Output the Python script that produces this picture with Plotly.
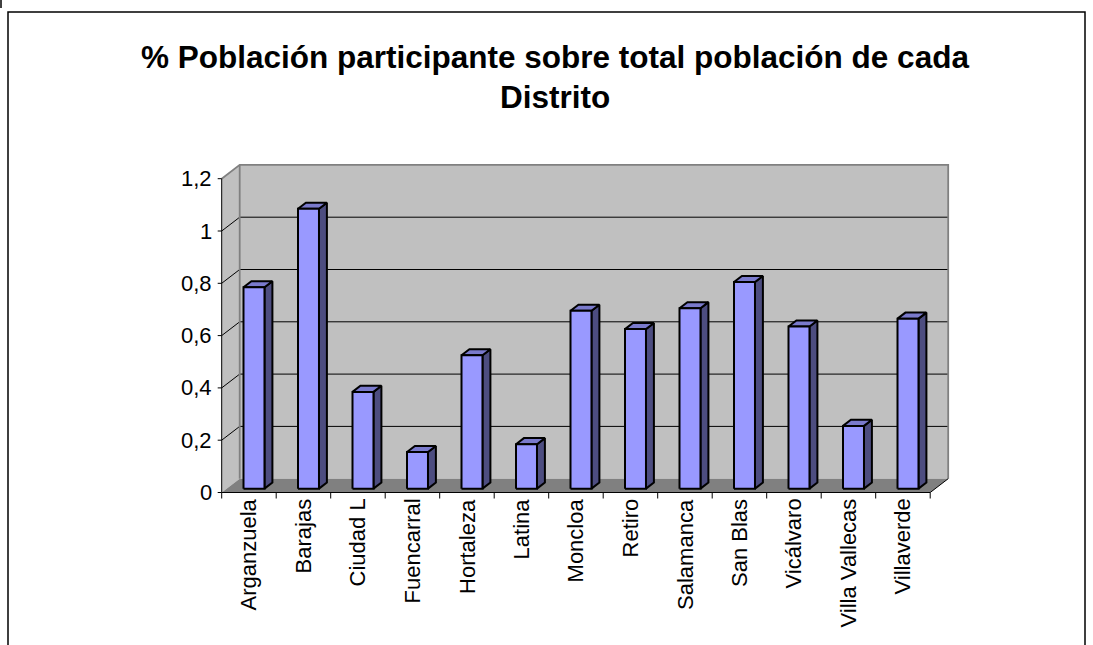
import plotly.graph_objects as go

# ---------------- data ----------------
categories = ["Arganzuela", "Barajas", "Ciudad L", "Fuencarral", "Hortaleza", "Latina",
              "Moncloa", "Retiro", "Salamanca", "San Blas", "Vicálvaro",
              "Villa Vallecas", "Villaverde"]
values = [0.77, 1.07, 0.37, 0.14, 0.51, 0.17, 0.68, 0.61, 0.69, 0.79, 0.62, 0.24, 0.65]
y_ticks = [0, 0.2, 0.4, 0.6, 0.8, 1.0, 1.2]
y_tick_labels = ["0", "0,2", "0,4", "0,6", "0,8", "1", "1,2"]
title_lines = ["% Población participante sobre total población de cada", "Distrito"]

# ---------------- layout constants ----------------
W, H = 1093, 645
X0_PX, PX_PER_CAT = 221.7, 54.5        # front origin / px per category
Y0_PX, PX_PER_UNIT = 492.5, 261.5      # front zero / px per value unit
DEPTH_X = 18.0 / PX_PER_CAT
DEPTH_Y = 13.8 / PX_PER_UNIT
BAR_W = 0.385
D0, D1 = 0.28, 0.72
FONT = "Liberation Sans, Arial, Helvetica, sans-serif"

n = len(categories)
YMAX = y_ticks[-1]


def P(x, y, d):
    return (x + d * DEPTH_X, y + d * DEPTH_Y)


traces = []


def poly(pts, fill, line_color="rgba(0,0,0,0)", lw=0):
    xs = [p[0] for p in pts] + [pts[0][0]]
    ys = [p[1] for p in pts] + [pts[0][1]]
    traces.append(go.Scatter(x=xs, y=ys, mode="lines", fill="toself", fillcolor=fill,
                             line=dict(color=line_color, width=lw),
                             hoverinfo="skip", showlegend=False))


def lines(segs, color, lw):
    xs, ys = [], []
    for seg in segs:
        for p in seg:
            xs.append(p[0]); ys.append(p[1])
        xs.append(None); ys.append(None)
    traces.append(go.Scatter(x=xs, y=ys, mode="lines", line=dict(color=color, width=lw),
                             hoverinfo="skip", showlegend=False))


# walls & floor
poly([P(0, 0, 0), P(0, YMAX, 0), P(0, YMAX, 1), P(0, 0, 1)], "#C0C0C0")
poly([P(0, 0, 1), P(n, 0, 1), P(n, YMAX, 1), P(0, YMAX, 1)], "#C0C0C0")
poly([P(0, 0, 0), P(n, 0, 0), P(n, 0, 1), P(0, 0, 1)], "#808080")

# gridlines (left wall + back wall)
lines([[P(0, g, 0), P(0, g, 1), P(n, g, 1)] for g in y_ticks[1:-1]], "black", 1)

# wall edges
lines([[P(0, YMAX, 0), P(0, YMAX, 1), P(n, YMAX, 1), P(n, 0, 1)],
       [P(0, YMAX, 1), P(0, 0, 1)]], "#808080", 1.8)

# axes
tick_y_len = 4.0 / PX_PER_CAT
tick_x_len = 6.0 / PX_PER_UNIT
lines([[P(0, 0, 0), P(0, YMAX, 0)]], "black", 1)
lines([[P(0, 0, 0), P(n, 0, 0), P(n, 0, 1)]], "black", 1)
lines([[(-tick_y_len, g), (0, g)] for g in y_ticks], "black", 1)
lines([[(i, 0), (i, -tick_x_len)] for i in range(n + 1)], "black", 1)

# bars
for i, v in enumerate(values):
    x0 = i + (1 - BAR_W) / 2
    x1 = x0 + BAR_W
    side = [P(x1, 0, D0), P(x1, 0, D1), P(x1, v, D1), P(x1, v, D0)]
    top = [P(x0, v, D0), P(x1, v, D0), P(x1, v, D1), P(x0, v, D1)]
    front = [P(x0, 0, D0), P(x1, 0, D0), P(x1, v, D0), P(x0, v, D0)]
    poly(side, "#4D4D80", "black", 2)
    poly(top, "#7A7ACC", "black", 2)
    poly(front, "#9999FF", "black", 2)

fig = go.Figure(traces)

annotations = []
for g, lab in zip(y_ticks, y_tick_labels):
    annotations.append(dict(x=-7.5 / PX_PER_CAT, y=g, xref="x", yref="y", text=lab,
                            showarrow=False, xanchor="right", yanchor="middle",
                            font=dict(family=FONT, size=22, color="black")))
for i, c in enumerate(categories):
    annotations.append(dict(x=i + 0.5, y=-4.0 / PX_PER_UNIT, xref="x", yref="y", text=c,
                            showarrow=False, xanchor="center", yanchor="top", textangle=-90,
                            font=dict(family=FONT, size=22, color="black")))
title_y_px = [57, 97]
for t, ypx in zip(title_lines, title_y_px):
    annotations.append(dict(x=554.5 / W, y=1 - ypx / H, xref="paper", yref="paper",
                            text="<b>" + t + "</b>", showarrow=False,
                            xanchor="center", yanchor="middle",
                            font=dict(family=FONT, size=31.5, color="black")))

shapes = [
    dict(type="rect", xref="paper", yref="paper", x0=8 / W, x1=1085 / W,
         y0=-0.05, y1=1 - 12 / H, line=dict(color="black", width=1.5)),
    dict(type="line", xref="paper", yref="paper", x0=1 / W, x1=1 / W,
         y0=1, y1=1 - 8 / H, line=dict(color="black", width=1.5)),
]

fig.update_layout(
    width=W, height=H, autosize=False,
    margin=dict(l=0, r=0, t=0, b=0, pad=0),
    paper_bgcolor="white", plot_bgcolor="white",
    xaxis=dict(range=[-X0_PX / PX_PER_CAT, (W - X0_PX) / PX_PER_CAT], visible=False,
               fixedrange=True),
    yaxis=dict(range=[-(H - Y0_PX) / PX_PER_UNIT, Y0_PX / PX_PER_UNIT], visible=False,
               fixedrange=True),
    annotations=annotations, shapes=shapes,
    hovermode=False, showlegend=False,
)

fig.write_html("out.html", config={"displayModeBar": False},
               post_script="document.body.style.margin='0';document.body.style.overflow='hidden';")
